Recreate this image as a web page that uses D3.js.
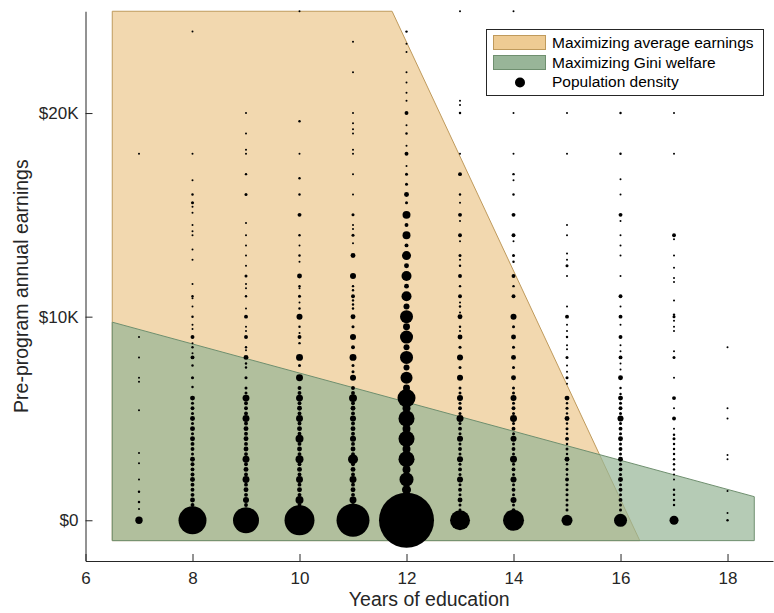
<!DOCTYPE html>
<html>
<head>
<meta charset="utf-8">
<script src="https://cdn.jsdelivr.net/npm/d3@7"></script>
<style>
  body { margin: 0; background: #fff; }
  text { font-family: "Liberation Sans", Helvetica, Arial, sans-serif; }
</style>
</head>
<body>
<div id="graph"></div>
<script>
const width = 774, height = 613;
const margin = {left: 85.5, right: 1, top: 11.25, bottom: 52};

// axis domains (years, $K)
const xDomain = [6, 18.85];
const yDomain = [-2, 25];
const xTicks = [6, 8, 10, 12, 14, 16, 18];
const yTicks = [0, 10, 20];
const yTickLabels = ['$0', '$10K', '$20K'];

// policy regions, [years of education, earnings in $K]
const avgEarnRegion = [[6.5, -1], [6.5, 25], [11.73, 25], [16.36, -1]];
const giniRegion = [[6.5, -1], [6.5, 9.73], [18.5, 1.16], [18.5, -1]];

// population density: [earnings $K, people] for each year of education
const dots7 = [[18,1],[9,1],[8,1],[7,1],[6.8,1],[5.4,1],[3.3,1],[2.8,1],[2,1],[1.4,2],[0.9,2],[0.55,1],[0,18]];
const dots8 = [[24,1],[18,1],[16.7,1],[16,2],[15.6,3],[15.4,1],[15.1,1],[14.5,1],[14.2,1],[14,1],[13.3,1],[12.8,1],
  [11.6,1],[11,2],[10.9,1],[10.5,1],[10,2],[9.6,1],[9.4,1],[9,5],[8.7,1],[8.5,2],[8.2,1],[8,5],[7.6,2],[7,3],[6.55,2],
  [6,8],[5.75,3],[5.5,5],[5.25,3],[5,8],[4.75,3],[4.5,8],[4.25,3],[4,8],[3.75,5],[3.5,5],[3.25,3],[3,8],[2.75,5],
  [2.5,5],[2.25,5],[2,8],[1.75,5],[1.5,5],[1.25,5],[1,8],[0.75,5],[0.5,5],[0,259]];
const dots9 = [[20,1],[19,1],[18.2,1],[18,1],[17,2],[16,3],[14.6,1],[14,1],[13.5,1],[13,1],[12.5,1],[12,3],[11.6,1],
  [11.4,1],[11,2],[10.4,1],[10,5],[9.5,1],[9.3,1],[9,5],[8.5,2],[8.35,1],[8,8],[7.7,2],[7.5,2],[7,3],[6.5,3],[6.25,3],
  [6,16],[5.75,5],[5.5,5],[5.25,5],[5,16],[4.75,5],[4.5,8],[4.25,5],[4,8],[3.75,5],[3.5,8],[3.25,5],[3,16],[2.75,5],
  [2.5,8],[2.25,5],[2,16],[1.75,5],[1.5,8],[1.25,5],[1,12],[0.75,5],[0.5,8],[0,223]];
const dots10 = [[25,1],[19.6,2],[18,1],[16.8,2],[16,2],[15,5],[14,2],[13.5,1],[13,2],[12.7,1],[12,8],[11.5,2],[11.4,1],
  [11,3],[10.7,1],[10.4,2],[10,12],[9.5,2],[9.2,1],[9,5],[8.7,2],[8,16],[7.6,3],[7,16],[6.5,5],[6.25,5],[6,16],
  [5.75,5],[5.5,8],[5.25,5],[5,16],[4.75,5],[4.5,8],[4.25,5],[4,21],[3.75,5],[3.5,8],[3.25,5],[3,21],[2.75,5],
  [2.5,8],[2.25,5],[2,16],[1.75,5],[1.5,8],[1.25,5],[1,21],[0.75,5],[0.5,8],[0,297]];
const dots11 = [[23.5,1],[22,1],[20,1],[19.5,1],[19.2,1],[19,1],[18.2,1],[18,1],[17,1],[16,1],[15,3],[14.5,1],[14.3,1],
  [14,3],[13.6,1],[13,8],[12,12],[11.5,2],[11.3,2],[11,5],[10.8,2],[10.6,2],[10.4,2],[10,8],[9.5,3],[9,12],[8.5,5],
  [8,16],[7.6,3],[7.3,3],[7,12],[6.5,5],[6.25,5],[6,21],[5.75,5],[5.5,8],[5.25,5],[5,12],[4.75,5],[4.5,8],[4.25,5],
  [4,12],[3.75,5],[3.5,8],[3.25,5],[3,33],[2.75,5],[2.5,8],[2.25,5],[2,16],[1.75,5],[1.5,8],[1.25,5],[1,16],[0.75,5],
  [0.5,8],[0,360]];
const dots12 = [[24,2],[23.4,1],[23,1],[22,1],[21.5,1],[21,1],[20.6,1],[20,5],[19.4,1],[19,2],[18.4,1],[18,5],[17.4,1],
  [17,3],[16.5,3],[16,8],[15.6,3],[15,21],[14.5,5],[14,21],[13.5,5],[13,27],[12.5,8],[12,33],[11.5,8],[11,33],
  [10.5,12],[10,56],[9.5,16],[9,56],[8.5,12],[8,56],[7.5,12],[7,48],[6.5,16],[6,107],[5.5,21],[5,85],[4.5,21],
  [4,85],[3.5,21],[3,85],[2.5,21],[2,65],[1.5,27],[1,65],[0,1000]];
const dots13 = [[25,1],[20.6,1],[20.4,1],[20,2],[18,1],[17,5],[16,2],[15.6,1],[15,5],[14.7,1],[14,5],[13.7,1],[13,3],
  [12.8,1],[12.5,2],[12,5],[11.5,2],[11,5],[10.7,1],[10.5,2],[10.2,1],[10,8],[9.5,2],[9.3,1],[9,8],[8.5,3],[8,12],
  [7.5,3],[7,12],[6.5,3],[6.25,3],[6,12],[5.75,3],[5.5,5],[5.25,3],[5,16],[4.75,3],[4.5,5],[4.25,3],[4,12],[3.75,3],
  [3.5,5],[3.25,3],[3,12],[2.75,3],[2.5,5],[2.25,3],[2,12],[1.75,3],[1.5,5],[1.25,3],[1,8],[0.75,3],[0.5,3],[0,132]];
const dots14 = [[25,1],[20,1],[18,1],[17,2],[16.7,1],[16,2],[15,5],[14,5],[13.7,1],[13,3],[12.7,2],[12,5],[11.5,2],
  [11,5],[10,12],[9.5,3],[9,8],[8.5,3],[8,8],[7.5,3],[7,8],[6.5,3],[6.25,3],[6,12],[5.75,3],[5.5,5],[5.25,3],[5,16],
  [4.75,3],[4.5,5],[4.25,3],[4,12],[3.75,3],[3.5,5],[3.25,3],[3,16],[2.75,3],[2.5,5],[2.25,3],[2,12],[1.75,3],
  [1.5,5],[1.25,3],[1,12],[0.75,3],[0.5,5],[0,146]];
const dots15 = [[20,1],[18,1],[14.5,1],[14,1],[13.1,1],[12.8,1],[12.5,3],[12,1],[10.5,1],[10,5],[9.6,1],[9.3,1],[9,2],
  [8.6,1],[8.4,1],[8,3],[7.6,1],[7.3,1],[7,3],[6.7,1],[6,8],[5.75,2],[5.5,3],[5.25,2],[5,8],[4.75,2],[4.5,3],[4.25,2],
  [4,5],[3.75,2],[3.5,3],[3.25,2],[3,8],[2.75,2],[2.5,3],[2.25,2],[2,5],[1.75,3],[1.5,3],[1.25,3],[1,3],[0.75,3],
  [0.5,3],[0,40]];
const dots16 = [[20,2],[18,2],[16.75,1],[16,1],[15,5],[14.7,1],[14,1],[13.5,1],[13,1],[12,1],[11,5],[10.5,1],[10,5],
  [9.6,1],[9,5],[8.6,1],[8.3,1],[8,5],[7.7,1],[7.4,1],[7,8],[6.5,2],[6.2,2],[6,8],[5.75,3],[5.5,5],[5.25,3],[5,12],
  [4.75,3],[4.5,5],[4.25,3],[4,8],[3.75,3],[3.5,5],[3.25,3],[3,8],[2.75,3],[2.5,5],[2.25,3],[2,8],[1.75,3],[1.5,5],
  [1.25,3],[1,5],[0.75,3],[0.5,3],[0,56]];
const dots17 = [[20,1],[18,1],[14,5],[13.8,1],[13,1],[12.4,1],[11.9,1],[11.7,1],[10.8,1],[10.1,2],[10,3],[9.8,1],
  [9.5,1],[9.3,1],[8.3,1],[8,3],[7,1],[6,5],[5.5,1],[5,5],[4.5,1],[4.2,2],[4,3],[3.75,2],[3.5,2],[3.25,2],[3,2],
  [2.75,2],[2.5,2],[2.25,1],[2,1],[1.5,2],[1.25,2],[1,2],[0.75,2],[0,27]];
const dots18 = [[8.5,1],[5.5,1],[5,1],[3.2,1],[3,1],[1.44,1],[0.36,1],[0,2]];

const dotsByYear = [[7, dots7], [8, dots8], [9, dots9], [10, dots10], [11, dots11], [12, dots12],
  [13, dots13], [14, dots14], [15, dots15], [16, dots16], [17, dots17], [18, dots18]];

const legendLabels = ['Maximizing average earnings', 'Maximizing Gini welfare', 'Population density'];

let svg =
d3.select("#graph").
append("svg").
attr("width", width).
attr("height", height);

const xScale =
d3.scaleLinear().
domain(xDomain).
range([margin.left, width - margin.right]);

const yScale =
d3.scaleLinear().
domain(yDomain).
range([height - margin.bottom, margin.top]);

const rScale =
d3.scaleSqrt().
domain([0, 1000]).
range([0, 27.5]);

const line = d3.line().
x(d => xScale(d[0])).
y(d => yScale(d[1]));

// regions
svg.append("path").
attr("d", line(avgEarnRegion) + "Z").
attr("fill", "#eecb93").
attr("fill-opacity", 0.74).
attr("stroke", "#bf9a5c").
attr("stroke-width", 1);

svg.append("path").
attr("d", line(giniRegion) + "Z").
attr("fill", "#95b595").
attr("fill-opacity", 0.7).
attr("stroke", "#6f8f6f").
attr("stroke-width", 1);

// dots
const allDots = [];
dotsByYear.forEach(([yr, list]) => {
  list.forEach(p => allDots.push({year: yr, earn: p[0], n: p[1]}));
});

svg.append("g").
selectAll("circle").
data(allDots).
enter().
append("circle").
attr("cx", d => xScale(d.year)).
attr("cy", d => yScale(d.earn)).
attr("r", d => Math.max(1, rScale(d.n))).
attr("fill", "#000");

// axes
const xAxis = d3.axisBottom(xScale).
tickValues(xTicks).
tickFormat(d3.format("d")).
tickSizeInner(-7).
tickSizeOuter(0).
tickPadding(11);

const yAxis = d3.axisLeft(yScale).
tickValues(yTicks).
tickFormat((d, i) => yTickLabels[i]).
tickSizeInner(-7).
tickSizeOuter(0).
tickPadding(7);

const gx = svg.append("g").
attr("transform", "translate(0," + (height - margin.bottom) + ")").
call(xAxis);

const gy = svg.append("g").
attr("transform", "translate(" + margin.left + ",0)").
call(yAxis);

[gx, gy].forEach(g => {
  g.select(".domain").attr("stroke", "#262626");
  g.selectAll(".tick line").attr("stroke", "#262626");
  g.selectAll(".tick text").
  attr("fill", "#262626").
  style("font-size", "17px").
  style("font-family", '"Liberation Sans", Helvetica, Arial, sans-serif');
});

svg.append("text").
attr("x", (margin.left + width - margin.right) / 2).
attr("y", 606).
attr("text-anchor", "middle").
attr("fill", "#262626").
style("font-size", "19.5px").
text("Years of education");

svg.append("text").
attr("transform", "translate(28," + ((margin.top + height - margin.bottom) / 2) + ") rotate(-90)").
attr("text-anchor", "middle").
attr("fill", "#262626").
style("font-size", "19.5px").
text("Pre-program annual earnings");

// legend
const legend = svg.append("g");
legend.append("rect").
attr("x", 486.5).
attr("y", 29.5).
attr("width", 277).
attr("height", 66).
attr("fill", "#fff").
attr("stroke", "#262626").
attr("stroke-width", 1);

legend.append("rect").
attr("x", 493.5).attr("y", 35.5).attr("width", 52).attr("height", 14).
attr("fill", "#eecb93").attr("stroke", "#bf9a5c");
legend.append("rect").
attr("x", 493.5).attr("y", 55.5).attr("width", 52).attr("height", 14).
attr("fill", "#98b598").attr("stroke", "#6f8f6f");
legend.append("circle").
attr("cx", 520).attr("cy", 82.5).attr("r", 5).attr("fill", "#000");

legend.selectAll(".lbl").
data(legendLabels).
enter().
append("text").
attr("class", "lbl").
attr("x", 552).
attr("y", (d, i) => 43 + i * 19.5).
attr("dy", "0.35em").
attr("fill", "#000").
style("font-size", "15.5px").
text(d => d);
</script>
</body>
</html>
